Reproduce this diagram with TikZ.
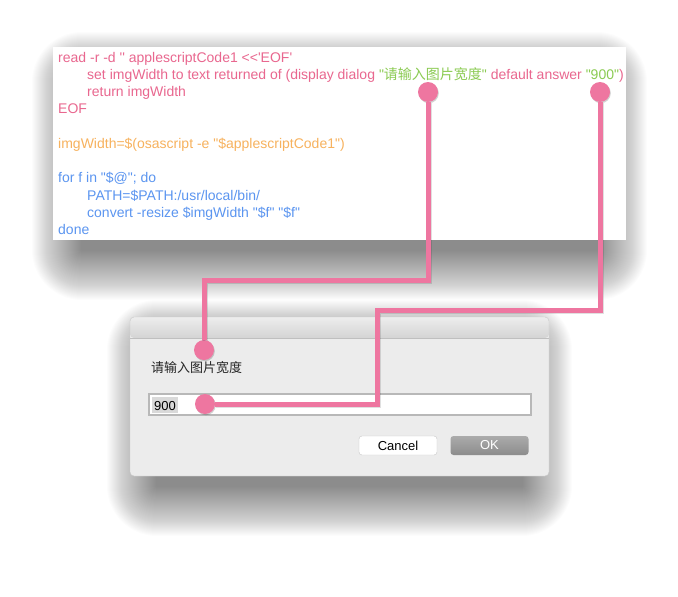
\documentclass[tikz,border=0pt]{standalone}
\usepackage{fontspec}
\newfontfamily\codefont{Liberation Sans}
\newfontfamily\cjk{Noto Sans CJK SC}

\definecolor{codepink}{HTML}{E9678F}
\definecolor{codegreen}{HTML}{8BCB52}
\definecolor{codeorange}{HTML}{F7B25E}
\definecolor{codeblue}{HTML}{5B95F0}
\definecolor{linkpink}{HTML}{EE76A0}
\definecolor{dialogbg}{HTML}{ECECEC}

\tikzset{
  codeline/.style={anchor=base west,inner sep=0pt,font=\codefont\fontsize{14}{16}\selectfont},
  dot/.style={circle,fill=linkpink,minimum size=20pt,inner sep=0pt,
    preaction={fill=black,opacity=.18,transform canvas={shift={(.8pt,-1.2pt)}}}},
  link/.style={draw=linkpink,line width=5pt,
    preaction={draw=black,opacity=.12,line width=6pt,transform canvas={shift={(.8pt,-1.2pt)}}}},
  button/.style={rounded corners=3pt,minimum width=78pt,minimum height=19pt,inner sep=0pt,
    font=\codefont\fontsize{13}{15}\selectfont},
  softshadow/.style={black,opacity=.011}
}

\begin{document}
\begin{tikzpicture}[x=1pt,y=-1pt]
  \useasboundingbox (0,0) rectangle (678,597);

  % code panel
  \foreach \r in {1,...,50}
    \fill[softshadow,rounded corners=\r pt] ({82-\r},{82-\r}) rectangle ({597+\r},{250+\r});
  \fill[white] (53,47) rectangle (626,240);

  \node[codeline,text=codepink] (l1) at (58,62) {read -r -d '' applescriptCode1 <<'EOF'};
  \node[codeline,text=codepink] (l2) at (87,79.25) {set imgWidth to text returned of (display dialog
    \textcolor{codegreen}{"{\cjk 请输入图片宽度}"} default answer \textcolor{codegreen}{"900"})};
  \node[codeline,text=codepink] (l3) at (87,96.5) {return imgWidth};
  \node[codeline,text=codepink] (l4) at (58,113.75) {EOF};
  \node[codeline,text=codeorange] (l5) at (58,148.25) {imgWidth=\$(osascript -e "\$applescriptCode1")};
  \node[codeline,text=codeblue] (l6) at (58,182.75) {for f in "\$@"; do};
  \node[codeline,text=codeblue] (l7) at (87,200) {PATH=\$PATH:/usr/local/bin/};
  \node[codeline,text=codeblue] (l8) at (87,217.25) {convert -resize \$imgWidth "\$f" "\$f"};
  \node[codeline,text=codeblue] (l9) at (58,234.5) {done};

  % dialog
  \foreach \r in {1,...,50}
    \fill[softshadow,rounded corners=\r pt] ({157-\r},{350-\r}) rectangle ({522+\r},{486+\r});
  \fill[dialogbg,rounded corners=4pt] (130,317) rectangle (549,476);
  \shade[top color=black!7,bottom color=black!17,rounded corners=4pt]
    (130,338) |- (549,317) -- (549,338) -- cycle;
  \draw[black!25] (130,338) -- (549,338);
  \draw[black!22,rounded corners=4pt] (130,317) rectangle (549,476);

  \node[anchor=base west,inner sep=0pt,text=black!85,font=\cjk\fontsize{13}{15}\selectfont] (prompt) at (151,372.5) {请输入图片宽度};

  \draw[black!28,line width=2pt,fill=white] (149,394) rectangle (531,415);
  \fill[black!15] (152,397) rectangle (178,413);
  \node[codeline,text=black,font=\codefont\fontsize{13}{15}\selectfont] (answer) at (154,410) {900};

  \node[button,draw=black!22,fill=white] (cancel) at (398,445.5) {Cancel};
  \node[button,top color=black!33,bottom color=black!45,text=white] (ok) at (489.5,445.5) {OK};

  % connectors
  \node[dot] (d1) at (428,92) {};
  \node[dot] (d2) at (600,92) {};
  \node[dot] (d3) at (204,350) {};
  \node[dot] (d4) at (205,404) {};
  \coordinate (k1) at (204,280);
  \coordinate (k2) at (377,310);

  \draw[link] (d1) |- (k1) -- (d3);
  \draw[link] (d2) |- (k2) |- (d4);

\end{tikzpicture}
\end{document}
